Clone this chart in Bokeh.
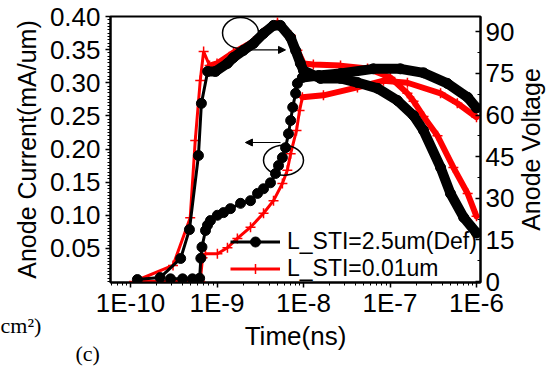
import math
import numpy as np
from bokeh.plotting import figure
from bokeh.models import (Range1d, LinearAxis, FixedTicker, Legend, LegendItem, Title,
                          Arrow, NormalHead, CustomJSTickFormatter, NumeralTickFormatter)
from bokeh.embed import file_html
from bokeh.resources import INLINE

# ---------------- data ----------------
# L_STI = 2.5um (Def) : anode voltage (right axis)
def_volt_time = [1.2e-10, 2.2e-10, 3.8e-10, 4.8e-10, 6.1e-10, 6.6e-10, 7.8e-10, 9.6e-10, 1.32e-9,
                 1.55e-9, 2.02e-9, 2.64e-9, 3.45e-9, 4.5e-9, 5.4e-9, 7.1e-9, 8.1e-9, 9.2e-9, 1.0e-8,
                 1.57e-8, 2.68e-8, 4.2e-8, 7.2e-8, 1.22e-7, 1.87e-7, 2.44e-7, 3.84e-7, 5.0e-7, 7.1e-7, 1.0e-6]
def_volt = [0.7, 1.4, 8.3, 18.7, 45.4, 64.2, 75.7, 75.7, 78.6,
            80.7, 83.3, 85.8, 89.4, 92.3, 92.3, 87.9, 83.3, 78.6, 76.0,
            73.2, 73.2, 71.7, 69.6, 65.2, 59.8, 54.4, 41.1, 31.7, 23.1, 17.5]

# L_STI = 2.5um (Def) : anode current (left axis)
def_curr_time = [2.9e-10, 4.0e-10, 5.2e-10, 6.3e-10, 6.5e-10, 6.7e-10, 7.36e-10, 7.76e-10, 8.4e-10,
                 1.01e-9, 1.19e-9, 1.43e-9, 1.87e-9, 2.44e-9, 2.94e-9, 3.45e-9, 4.15e-9, 4.74e-9,
                 5.14e-9, 5.7e-9, 6.2e-9, 6.7e-9, 7.1e-9, 7.5e-9, 8.1e-9, 8.5e-9, 9.7e-9, 1.5e-8,
                 2.68e-8, 6.4e-8, 1.32e-7, 2.44e-7, 4.6e-7, 7.9e-7, 1.0e-6]
def_curr = [0.004, 0.004, 0.004, 0.005, 0.035, 0.052, 0.077, 0.085, 0.092,
            0.100, 0.104, 0.110, 0.118, 0.122, 0.133, 0.140, 0.149, 0.163,
            0.175, 0.187, 0.202, 0.223, 0.243, 0.263, 0.284, 0.299, 0.308, 0.311,
            0.314, 0.321, 0.321, 0.315, 0.299, 0.278, 0.262]

# L_STI = 0.01um : anode voltage (right axis)
sti_volt_time = [1.1e-10, 3.1e-10, 4.9e-10, 5.6e-10, 6.4e-10, 7.0e-10, 8.2e-10, 1.0e-9, 1.55e-9,
                 2.64e-9, 3.45e-9, 5.0e-9, 7.1e-9, 8.5e-9, 1.0e-8, 1.3e-8, 2.68e-8, 5.5e-8,
                 1.01e-7, 1.59e-7, 1.87e-7, 2.44e-7, 3.54e-7, 5.4e-7, 7.9e-7, 1.0e-6]
sti_volt = [0.0, 5.8, 23.0, 50.8, 72.4, 82.9, 77.8, 78.6, 82.5,
            86.5, 89.8, 93.3, 88.7, 83.3, 78.6, 78.2, 77.8, 76.8,
            73.5, 67.8, 65.0, 59.5, 52.5, 41.1, 31.7, 23.5]

# L_STI = 0.01um : anode current (left axis)
sti_curr_time = [1.3e-10, 6.4e-10, 6.8e-10, 7.36e-10, 1.01e-9, 1.32e-9, 1.72e-9, 2.44e-9, 3.45e-9,
                 4.5e-9, 5.7e-9, 6.5e-9, 7.1e-9, 8.3e-9, 9.0e-9, 9.7e-9, 1.7e-8, 4.2e-8,
                 8.4e-8, 1.59e-7, 3.84e-7, 6.0e-7, 1.0e-6]
sti_curr = [0.0, 0.0, 0.036, 0.042, 0.042, 0.051, 0.065, 0.082, 0.103,
            0.122, 0.148, 0.168, 0.193, 0.228, 0.258, 0.278, 0.281, 0.293,
            0.303, 0.300, 0.284, 0.269, 0.248]

series_labels = ["L_STI=2.5um(Def)", "L_STI=0.01um"]

x_ticks = [1e-10, 1e-9, 1e-8, 1e-7, 1e-6]
x_tick_labels = ["1E-10", "1E-9", "1E-8", "1E-7", "1E-6"]
curr_ticks = [0.05, 0.10, 0.15, 0.20, 0.25, 0.30, 0.35, 0.40]
volt_ticks = [0, 15, 30, 45, 60, 75, 90]

# ---------------- figure ----------------
FONT = "Liberation Sans"
BLACK = "#000000"
RED = "#ff0000"

p = figure(width=554, height=368, x_axis_type="log",
           x_range=Range1d(5.87e-11, 1.112e-6), y_range=Range1d(-0.0015, 0.40),
           output_backend="svg", toolbar_location=None,
           min_border_left=110, min_border_right=74, min_border_top=16, min_border_bottom=86)
p.extra_y_ranges = {"volt": Range1d(-0.36, 95.5)}
p.xgrid.visible = False
p.ygrid.visible = False
p.outline_line_color = "black"
p.outline_line_width = 2
p.background_fill_color = "white"
p.border_fill_color = "white"

# x axis
xa = p.xaxis[0]
x_minor = [m * 10.0 ** e for e in range(-11, -5) for m in range(2, 10)]
xa.ticker = FixedTicker(ticks=x_ticks, minor_ticks=x_minor)
xa.formatter = CustomJSTickFormatter(args=dict(vals=x_ticks, labs=x_tick_labels), code="""
    let best = 0, d = 1e9;
    for (let i = 0; i < vals.length; i++) {
        const e = Math.abs(Math.log10(vals[i]) - Math.log10(tick));
        if (e < d) { d = e; best = i; }
    }
    return labs[best];
""")
xa.axis_label = "Time(ns)"

# left axis
ya = p.yaxis[0]
ya.ticker = FixedTicker(ticks=curr_ticks, minor_ticks=list(np.round(np.arange(0.0, 0.4001, 0.005), 4)))
ya.formatter = NumeralTickFormatter(format="0.00")
ya.axis_label = "Anode Current(mA/um)"

# right axis (its title is drawn below, reading bottom-to-top as in the reference)
ra = LinearAxis(y_range_name="volt",
                ticker=FixedTicker(ticks=volt_ticks, minor_ticks=[7.5, 22.5, 37.5, 52.5, 67.5, 82.5]),
                formatter=NumeralTickFormatter(format="0"))
p.add_layout(ra, "right")

for ax in (xa, ya, ra):
    ax.axis_line_width = 2
    ax.axis_line_color = "black"
    ax.major_tick_line_width = 1.5
    ax.minor_tick_line_width = 1
    ax.major_label_text_font = FONT
    ax.major_label_text_font_size = "26px"
    ax.major_label_text_color = "black"
    ax.axis_label_text_font = FONT
    ax.axis_label_text_font_style = "normal"
    ax.axis_label_text_color = "black"

xa.major_tick_out = 5
xa.major_tick_in = 0
xa.minor_tick_out = 3
xa.minor_tick_in = 0
xa.major_label_standoff = 0
xa.axis_label_standoff = 0
xa.axis_label_text_font_size = "26px"

ya.major_tick_out = 5
ya.major_tick_in = 0
ya.minor_tick_out = 3
ya.minor_tick_in = 0
ya.major_label_standoff = 5
ya.axis_label_standoff = 6
ya.axis_label_text_font_size = "25px"

ra.major_tick_out = 0
ra.major_tick_in = 5
ra.minor_tick_out = 0
ra.minor_tick_in = 3
ra.major_label_standoff = 5

# ---------------- curves ----------------
def dense_from(times, t0):
    return next(i for i, t in enumerate(times) if t >= t0)

# red (L_STI=0.01um) first, black on top
k = dense_from(sti_volt_time, 8.2e-10)
rv_line = p.line(sti_volt_time, sti_volt, y_range_name="volt", line_color=RED, line_width=3)
p.line(sti_volt_time[k:], sti_volt[k:], y_range_name="volt", line_color=RED, line_width=6,
       line_join="round", line_cap="round")
rv_pts = p.scatter(sti_volt_time, sti_volt, y_range_name="volt", marker="cross", size=10,
                   line_color=RED, line_width=1.5)

k = dense_from(sti_curr_time, 9.7e-9)
p.line(sti_curr_time, sti_curr, line_color=RED, line_width=3)
p.line(sti_curr_time[k:], sti_curr[k:], line_color=RED, line_width=6, line_join="round", line_cap="round")
p.scatter(sti_curr_time, sti_curr, marker="cross", size=10, line_color=RED, line_width=1.5)

k = dense_from(def_volt_time, 7.8e-10)
bv_line = p.line(def_volt_time, def_volt, y_range_name="volt", line_color=BLACK, line_width=3)
p.line(def_volt_time[k:], def_volt[k:], y_range_name="volt", line_color=BLACK, line_width=10,
       line_join="round", line_cap="round")
bv_pts = p.scatter(def_volt_time, def_volt, y_range_name="volt", marker="circle", size=10,
                   fill_color=BLACK, line_color=BLACK)

k = dense_from(def_curr_time, 9.7e-9)
p.line(def_curr_time, def_curr, line_color=BLACK, line_width=3)
p.line(def_curr_time[k:], def_curr[k:], line_color=BLACK, line_width=10, line_join="round", line_cap="round")
p.scatter(def_curr_time, def_curr, marker="circle", size=10, fill_color=BLACK, line_color=BLACK)

# ---------------- annotations ----------------
p.ellipse(x=[1.87e-9], y=[0.375], width=36, height=31, width_units="screen", height_units="screen",
          fill_color=None, line_color="black", line_width=1.5)
p.ellipse(x=[5.87e-9], y=[0.183], width=40, height=30, width_units="screen", height_units="screen",
          fill_color=None, line_color="black", line_width=1.5)
p.add_layout(Arrow(end=NormalHead(size=7, fill_color="black", line_color="black", line_width=1),
                   x_start=2.25e-9, y_start=0.3496, x_end=6.19e-9, y_end=0.3496,
                   line_color="black", line_width=1.2))
p.add_layout(Arrow(end=NormalHead(size=7, fill_color="black", line_color="black", line_width=1),
                   x_start=5.42e-9, y_start=0.2098, x_end=2.13e-9, y_end=0.2098,
                   line_color="black", line_width=1.2))

legend = Legend(items=[LegendItem(label=series_labels[0], renderers=[bv_line, bv_pts]),
                       LegendItem(label=series_labels[1], renderers=[rv_line, rv_pts])],
                location=(120, 0), orientation="vertical", border_line_color=None,
                background_fill_alpha=0, padding=0, margin=0, spacing=0,
                glyph_width=50, glyph_height=25, label_height=25, label_standoff=7,
                label_text_font=FONT, label_text_font_size="23px", label_text_color="black")
p.add_layout(legend)

# right-axis title: a side-panel title (side panels are not clipped), reading bottom-to-top,
# pushed across to the right edge of the figure with a negative standoff
p.add_layout(Title(text="Anode Voltage", align="center", vertical_align="bottom", standoff=-1070,
                   text_font=FONT, text_font_size="25px", text_font_style="normal",
                   text_color="black"), "left")

# texts of the surrounding page, below the x axis
p.add_layout(Title(text="(c)", align="left", offset=-35, vertical_align="top", standoff=-25,
                   text_font="Liberation Serif", text_font_size="22px", text_font_style="normal",
                   text_color="black"), "below")
p.add_layout(Title(text="cm\u00b2)", align="left", offset=-110, vertical_align="top", standoff=-86,
                   text_font="Liberation Serif", text_font_size="22px", text_font_style="normal",
                   text_color="black"), "below")

open("out.html", "w").write(file_html(p, INLINE))
